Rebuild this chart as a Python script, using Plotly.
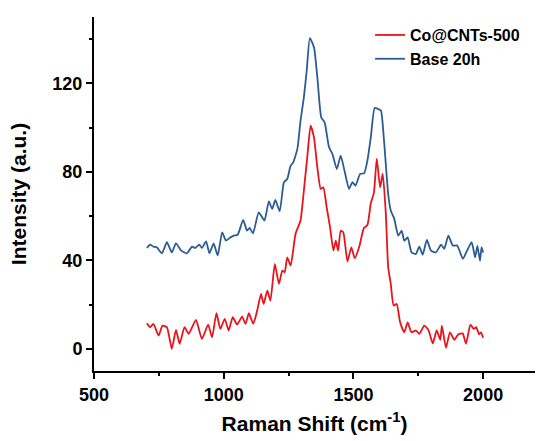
import plotly.graph_objects as go

# Raman shift (cm^-1) and intensity (a.u.)
co_x = [704, 716, 729, 749, 764, 781, 800, 816, 830, 849, 865, 893, 916, 940, 955, 972, 987,
        1004, 1019, 1035, 1052, 1071, 1084, 1097, 1114, 1129, 1144, 1154, 1168, 1180, 1197,
        1213, 1226, 1235, 1245, 1258, 1277, 1296, 1309, 1322, 1335, 1348, 1361, 1374, 1384,
        1397, 1410, 1423, 1432, 1441, 1451, 1461, 1477, 1492, 1505, 1522, 1540, 1554, 1567,
        1579, 1590, 1603, 1613, 1625, 1634, 1644, 1655, 1667, 1680, 1696, 1709, 1724, 1741,
        1754, 1773, 1789, 1806, 1821, 1835, 1841, 1857, 1872, 1889, 1904, 1921, 1934, 1951,
        1964, 1973, 1985, 1992, 2000]
co_y = [11.6, 9.8, 11.3, 6.0, 10.5, 9.8, 0.0, 8.6, 2.3, 9.8, 6.8, 13.1, 4.5, 11.0, 5.2, 16.1, 9.0,
        13.6, 8.3, 14.3, 11.0, 14.6, 11.3, 16.1, 11.3, 17.3, 24.8, 20.3, 26.3, 21.8, 38.4,
        29.4, 35.4, 34.6, 41.4, 37.6, 52.0, 58.0, 71.5, 86.6, 100.9, 95.6, 82.0, 72.3, 73.0,
        64.0, 54.9, 44.4, 48.9, 44.4, 53.4, 52.7, 39.5, 45.9, 41.0, 45.9, 54.5, 56.0, 65.8,
        70.5, 86.0, 73.0, 79.2, 61.0, 36.9, 29.4, 19.6, 20.3, 12.0, 7.5, 12.0, 7.5, 8.3,
        6.8, 10.5, 8.6, 2.5, 8.3, 4.1, 10.5, 0.5, 7.5, 4.1, 6.5, 7.0, 2.3, 11.0,
        9.0, 9.8, 6.6, 7.5, 5.0]

base_x = [704, 716, 729, 742, 762, 781, 800, 816, 836, 858, 878, 890, 906, 916, 932, 945, 961,
          977, 994, 1009, 1026, 1039, 1054, 1075, 1090, 1100, 1113, 1135, 1157, 1174, 1187,
          1199, 1216, 1232, 1245, 1258, 1268, 1284, 1296, 1309, 1320, 1332, 1348, 1361, 1376,
          1389, 1406, 1419, 1436, 1451, 1467, 1483, 1496, 1508, 1526, 1541, 1554, 1567, 1582,
          1595, 1606, 1618, 1634, 1644, 1657, 1673, 1686, 1696, 1709, 1724, 1741, 1754, 1767,
          1783, 1799, 1818, 1838, 1850, 1866, 1883, 1900, 1922, 1938, 1956, 1969, 1978, 1988,
          1994, 2000]
base_y = [45.6, 47.1, 46.2, 45.9, 43.2, 48.2, 43.6, 47.7, 44.4, 43.2, 46.2, 45.6, 47.1, 45.6, 48.6, 43.2, 47.7,
          42.2, 52.7, 48.9, 50.4, 51.2, 51.6, 58.3, 53.4, 54.7, 52.2, 61.7, 58.0, 66.6, 63.3,
          67.3, 62.2, 75.3, 76.8, 82.8, 84.3, 90.4, 103.0, 113.7, 125.7, 140.5, 136.3, 122.7, 104.6,
          102.4, 91.1, 88.1, 81.3, 87.3, 79.8, 72.3, 75.3, 73.8, 79.1, 79.3, 85.1, 95.6, 108.9,
          108.4, 107.7, 94.1, 70.0, 62.5, 59.0, 51.2, 53.4, 48.9, 50.4, 43.6, 42.9, 46.2, 42.6,
          49.2, 44.4, 43.6, 47.1, 45.2, 51.2, 46.7, 46.7, 40.7, 44.4, 48.2, 41.4, 46.5, 39.8,
          46.0, 43.5]

series_names = ["Co@CNTs-500", "Base 20h"]
x_ticks = [500, 1000, 1500, 2000]
y_ticks = [0, 40, 80, 120]

FONT = "Liberation Sans, Arial, sans-serif"

fig = go.Figure()
fig.add_trace(go.Scatter(x=co_x, y=co_y, mode="lines", name=series_names[0],
                         line=dict(color="#E8141C", width=1.8, shape="spline", smoothing=0.5)))
fig.add_trace(go.Scatter(x=base_x, y=base_y, mode="lines", name=series_names[1],
                         line=dict(color="#2B5C95", width=1.8, shape="spline", smoothing=0.5)))

axis_common = dict(showgrid=False, zeroline=False, showline=True, linecolor="black", linewidth=2,
                   ticks="outside", ticklen=6, tickwidth=2, tickcolor="black", mirror=False,
                   tickfont=dict(family=FONT, size=18, color="black", weight="bold"))

fig.update_xaxes(range=[500, 2200], tickvals=x_ticks, ticktext=[str(v) for v in x_ticks],
                 minor=dict(ticks="outside", ticklen=3, tickwidth=2, tickcolor="black", dtick=250, tick0=500),
                 title=dict(text="Raman Shift (cm<sup>-1</sup>)", standoff=13,
                            font=dict(family=FONT, size=21, color="black", weight="bold")),
                 **axis_common)
fig.update_yaxes(range=[-10, 150], tickvals=y_ticks, ticktext=[str(v) for v in y_ticks],
                 minor=dict(ticks="outside", ticklen=3, tickwidth=2, tickcolor="black", dtick=20, tick0=0),
                 title=dict(text="Intensity (a.u.)", standoff=20,
                            font=dict(family=FONT, size=21, color="black", weight="bold")),
                 **axis_common)

fig.update_layout(
    width=540, height=441,
    margin=dict(l=94, r=5, t=17, b=70, autoexpand=False),
    paper_bgcolor="white", plot_bgcolor="white",
    showlegend=True,
    legend=dict(x=0.626, y=0.997, xanchor="left", yanchor="top",
                bgcolor="rgba(0,0,0,0)", borderwidth=0, tracegroupgap=0,
                font=dict(family=FONT, size=16, color="black", weight="bold")),
)

fig.write_html("out.html")
